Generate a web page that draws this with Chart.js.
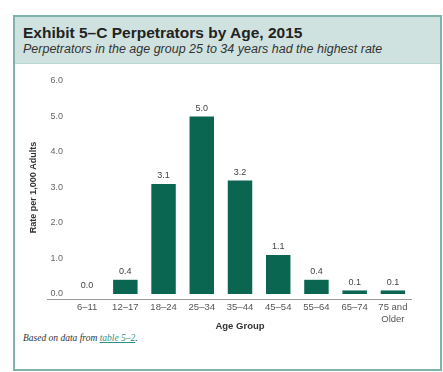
<!DOCTYPE html>
<html>
<head>
<meta charset="utf-8">
<script src="https://cdn.jsdelivr.net/npm/chart.js@4.4.1/dist/chart.umd.min.js"></script>
<style>
  html, body { margin: 0; padding: 0; background: #fff; }
  body { width: 443px; height: 372px; position: relative; overflow: hidden; font-family: "Liberation Sans", Arial, sans-serif; }
  #box { position: absolute; left: 13px; top: 15px; width: 425px; height: 352px; border: 2px solid #7db3ab; }
  #head { position: absolute; left: 0; top: 0; right: 0; height: 46px; background: #cfe2df; border-bottom: 1px solid #b9d6d1; }
  #title { position: absolute; left: 8px; top: 7px; font-weight: bold; font-size: 15.5px; color: #222; white-space: nowrap; }
  #sub { position: absolute; left: 8px; top: 25px; font-style: italic; font-size: 12.5px; color: #333; white-space: nowrap; }
  #foot { position: absolute; left: 8px; top: 316px; font-family: "Liberation Serif", "Times New Roman", serif; font-style: italic; font-size: 9.5px; color: #333; }
  #foot span { color: #2f8f86; text-decoration: underline; }
  canvas { position: absolute; left: 0; top: 0; }
</style>
</head>
<body>
<div id="box">
  <div id="head">
    <div id="title">Exhibit 5–C Perpetrators by Age, 2015</div>
    <div id="sub">Perpetrators in the age group 25 to 34 years had the highest rate</div>
  </div>
  <div id="foot">Based on data from <span>table 5–2</span>.</div>
</div>
<canvas id="chartAge" width="443" height="372"></canvas>
<script>
const ageGroups = ['6–11', '12–17', '18–24', '25–34', '35–44', '45–54', '55–64', '65–74', ['75 and', 'Older']];
const rates = [0.0, 0.4, 3.1, 5.0, 3.2, 1.1, 0.4, 0.1, 0.1];
const yTicks = [0, 1, 2, 3, 4, 5, 6];

const barGreen = '#0a6551';

const valueLabels = {
  id: 'valueLabels',
  afterDatasetsDraw: chart => {
    const ctx = chart.ctx;
    ctx.save();
    ctx.font = '9px "Liberation Sans", Arial, sans-serif';
    ctx.fillStyle = '#444';
    ctx.textAlign = 'center';
    ctx.textBaseline = 'middle';
    chart.getDatasetMeta(0).data.forEach((bar, i) => {
      ctx.fillText(rates[i].toFixed(1), bar.x, bar.y - 8);
    });
    // baseline sits a few px under the bars and runs under the tick labels
    const y0 = Math.round(chart.scales.y.getPixelForValue(0));
    ctx.strokeStyle = '#999';
    ctx.lineWidth = 1;
    ctx.beginPath();
    ctx.moveTo(47, y0 + 5.5);
    ctx.lineTo(chart.chartArea.right, y0 + 5.5);
    ctx.stroke();
    ctx.restore();
  }
};

new Chart(document.getElementById('chartAge'), {
  type: 'bar',
  plugins: [valueLabels],
  data: {
    labels: ageGroups,
    datasets: [{
      data: rates,
      backgroundColor: barGreen,
      barPercentage: 0.64,
      categoryPercentage: 1.0
    }]
  },
  options: {
    responsive: false,
    animation: false,
    events: [],
    layout: { padding: { left: 20, right: 31, top: 81, bottom: 40 } },
    plugins: { legend: { display: false }, tooltip: { enabled: false } },
    scales: {
      x: {
        grid: { display: false, drawTicks: false },
        border: { display: false },
        ticks: { color: '#555', font: { size: 9.5 }, padding: 8, maxRotation: 0, autoSkip: false },
        title: { display: true, text: 'Age Group', color: '#333', font: { size: 9.5, weight: 'bold' }, padding: { top: 2, bottom: 0 } },
        afterFit: scale => { scale.height = 38; }
      },
      y: {
        min: 0,
        max: 6,
        grid: { display: false, drawTicks: false },
        border: { display: false },
        afterBuildTicks: scale => { scale.ticks = yTicks.map(v => ({ value: v })); },
        ticks: { color: '#666', font: { size: 9 }, padding: 5, callback: v => v.toFixed(1) },
        title: { display: true, text: 'Rate per 1,000 Adults', color: '#333', font: { size: 9, weight: 'bold' }, padding: { top: 8 } },
        afterFit: scale => { scale.width = 48; }
      }
    }
  }
});
</script>
</body>
</html>
